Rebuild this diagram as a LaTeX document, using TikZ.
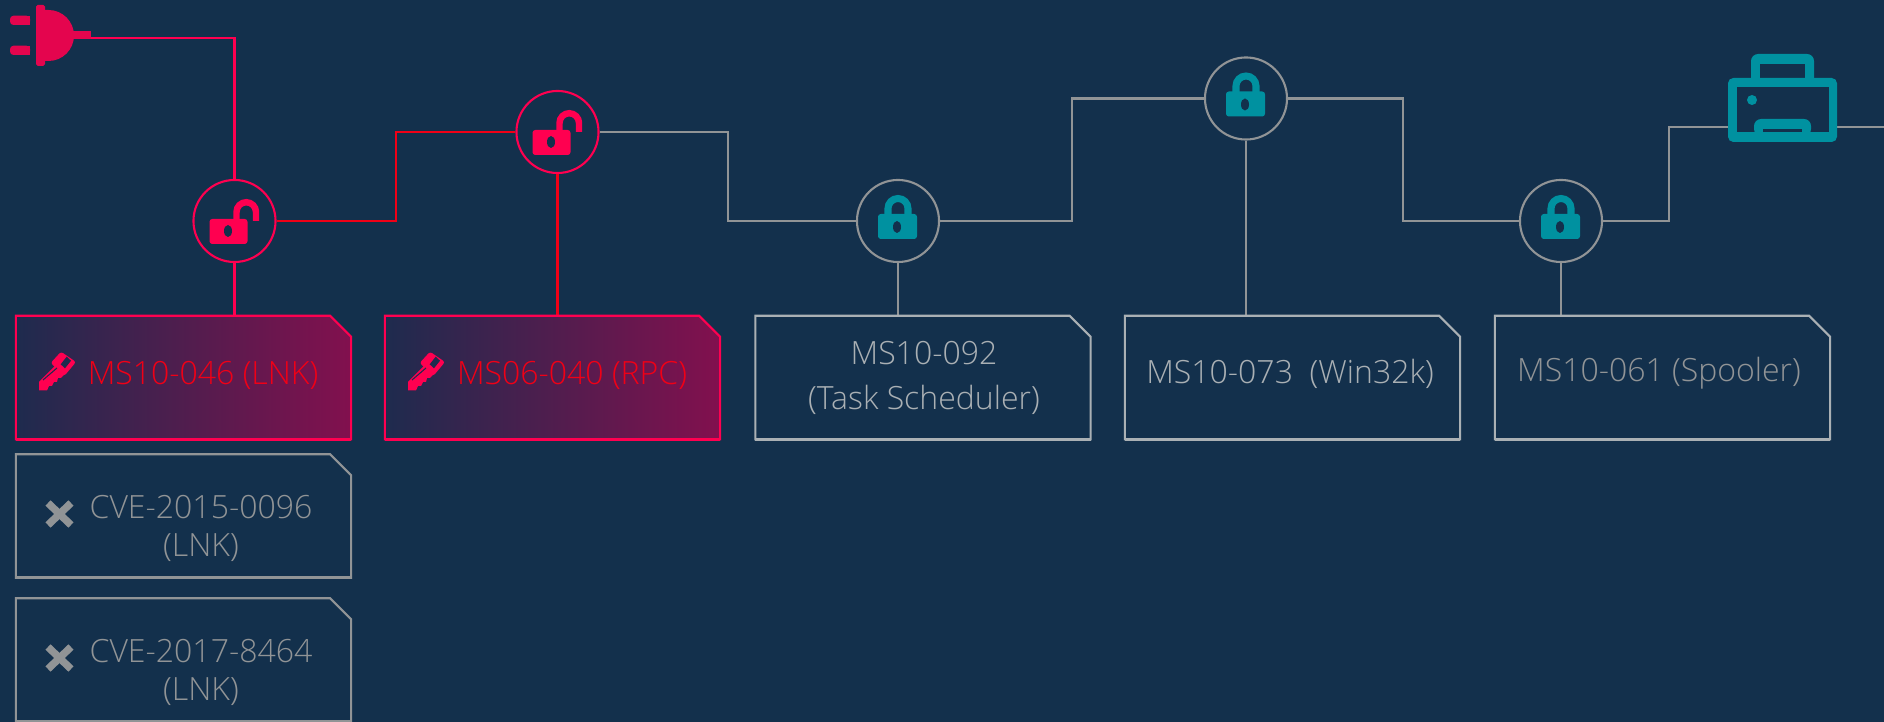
\documentclass[tikz,border=0pt]{standalone}
\usepackage{fontspec}
\setmainfont{Open Sans Light}
\usetikzlibrary{positioning}
\definecolor{bgnavy}{RGB}{19, 48, 76}
\definecolor{cvcrimson}{RGB}{255, 0, 80}
\definecolor{cvred}{RGB}{240, 0, 22}
\definecolor{cvplug}{RGB}{228, 5, 78}
\definecolor{cvteal}{RGB}{0, 145, 160}
\definecolor{cvgray}{RGB}{145, 148, 150}
\definecolor{cvlight}{RGB}{170, 176, 180}
\definecolor{cvfadeleft}{RGB}{30, 43, 78}
\definecolor{cvfaderight}{RGB}{130, 16, 78}

\tikzset{
  hopnode/.style={circle, draw, line width=0.6pt, minimum size=0.82cm, inner sep=0pt, fill=bgnavy},
  boxnode/.style={rectangle, minimum width=3.35cm, minimum height=1.235cm, inner sep=0pt, outer sep=0pt, align=center},
  wire/.style={line width=0.7pt, cvgray},
  hotwire/.style={line width=0.7pt, cvred},
  pinkwire/.style={line width=0.7pt, cvcrimson},
  label/.style={font=\fontsize{9.1}{10.6}\selectfont, align=center, inner sep=0pt},
}
\newcommand{\notchpath}[1]{(#1.south west) -- (#1.north west) -- ([xshift=-0.21cm]#1.north east) -- ([yshift=-0.21cm]#1.north east) -- (#1.south east) -- cycle}

\begin{document}
\begin{tikzpicture}[x=0.01cm, y=-0.01cm]
  % Background
  \fill[bgnavy] (0,0) rectangle (1884,722);
  \useasboundingbox (0,0) rectangle (1884,722);

  % Hop nodes
  \node[hopnode, draw=cvcrimson] (hopa) at (234.5,221) {};
  \node[hopnode, draw=cvcrimson] (hopb) at (557.5,132) {};
  \node[hopnode, draw=cvgray] (hopc) at (898,221) {};
  \node[hopnode, draw=cvgray] (hopd) at (1246,98.5) {};
  \node[hopnode, draw=cvgray] (hope) at (1561,221) {};

  % Boxes
  \node[boxnode] (boxa) at (183.5,377.5) {};
  \node[boxnode] (boxb) at (552.5,377.5) {};
  \node[boxnode] (boxc) at (923,377.5) {};
  \node[boxnode] (boxd) at (1292.5,377.5) {};
  \node[boxnode] (boxe) at (1662.5,377.5) {};
  \node[boxnode] (boxf) at (183.5,516) {};
  \node[boxnode] (boxg) at (183.5,660) {};

  % Ends of the chain
  \coordinate (plugend) at (91,38);
  \coordinate (printerin) at (1728,127);
  \coordinate (printerout) at (1837,127);
  \coordinate (edge) at (1884,127);

  % Wires
  \draw[pinkwire] (plugend) -| (hopa.north);
  \draw[hotwire] (hopa.east) -- (396,221) |- (hopb.west);
  \draw[wire] (hopb.east) -- (728,132) |- (hopc.west);
  \draw[wire] (hopc.east) -- (1072,221) |- (hopd.west);
  \draw[wire] (hopd.east) -- (1403,98.5) |- (hope.west);
  \draw[wire] (hope.east) -- (1669,221) |- (printerin);
  \draw[wire] (printerout) -- (edge);
  \draw[pinkwire] (hopa.south) -- (boxa.north -| hopa.south);
  \draw[hotwire] (hopb.south) -- (boxb.north -| hopb.south);
  \draw[wire] (hopc.south) -- (boxc.north -| hopc.south);
  \draw[wire] (hopd.south) -- (boxd.north -| hopd.south);
  \draw[wire] (hope.south) -- (boxe.north -| hope.south);

  % Box outlines
  \foreach \bname in {boxa, boxb} {
    \draw[cvcrimson, line width=0.6pt, left color=cvfadeleft, right color=cvfaderight] \notchpath{\bname};
    \draw[cvcrimson, line width=0.9pt] (\bname.south west) -- (\bname.south east);
  }
  \foreach \bname in {boxc, boxd, boxe} {
    \draw[cvlight, line width=0.6pt] \notchpath{\bname};
    \draw[cvlight, line width=0.9pt] (\bname.south west) -- (\bname.south east);
  }
  \foreach \bname in {boxf, boxg} {
    \draw[cvgray, line width=0.6pt] \notchpath{\bname};
    \draw[cvgray, line width=0.9pt] (\bname.south west) -- (\bname.south east);
  }

  % Box texts
  \node[label, cvred] (texta) at (203,375.5) {MS10-046 (LNK)};
  \node[label, cvred] (textb) at (572,375.5) {MS06-040 (RPC)};
  \node[label, cvlight] (textc) at (924,378) {MS10-092\\[2.2pt](Task Scheduler)};
  \node[label, cvlight] (textd) at (1290,373.5) {MS10-073\ \ (Win32k)};
  \node[label, cvgray] (texte) at (1659,373.5) {MS10-061 (Spooler)};
  \node[label, cvgray] (textf) at (201,528.5) {CVE-2015-0096\\(LNK)};
  \node[label, cvgray] (textg) at (201,672.5) {CVE-2017-8464\\(LNK)};

  % Plug
  \fill[cvplug, rounded corners=0.5pt] (36,5) rectangle (45,66);
  \fill[cvplug] (44,10) -- (48.5,10) arc (-90:90:25.5) -- (44,61) -- cycle;
  \fill[cvplug] (70,30.7) rectangle (91,39);
  \fill[cvplug, rounded corners=1pt] (10,15.7) rectangle (30,25);
  \fill[cvplug] (20,15.7) rectangle (30,25);
  \fill[cvplug, rounded corners=1pt] (10,45.7) rectangle (30,55);
  \fill[cvplug] (20,45.7) rectangle (30,55);

  % Open locks
  \foreach \hx/\hy in {234.5/221, 557.5/132} {
    \begin{scope}[shift={(\hx,\hy)}]
      \draw[cvcrimson, line width=1.84pt] (2,1) -- (2,-9) arc (180:360:9.75) -- (21.5,0);
      \fill[cvcrimson, rounded corners=0.8pt] (-25,-2) rectangle (13,23);
      \fill[bgnavy] (-6.5,10) ellipse (4 and 6);
    \end{scope}
  }

  % Closed locks
  \foreach \hx/\hy in {898/221, 1246/98.5, 1561/221} {
    \begin{scope}[shift={(\hx,\hy)}]
      \draw[cvteal, line width=2pt] (-10,-6) -- (-10,-12.5) arc (180:360:10) -- (10,-6);
      \fill[cvteal, rounded corners=0.8pt] (-20,-7) rectangle (19,18);
      \fill[bgnavy] (-1,6) ellipse (4 and 6);
    \end{scope}
  }

  % Keys
  \foreach \kx in {0, 369} {
    \begin{scope}[xshift=\kx*0.01cm]
      \fill[cvcrimson, rounded corners=0.7pt] (61,351.7) -- (76,362) -- (64.3,376) -- (50.7,363) -- cycle;
      \fill[cvcrimson] (39,382) -- (56,365) -- (65,374) -- (61,378) -- (58,378) -- (57,382) -- (54,382) -- (52,386) -- (49,386) -- (47,390.5) -- (39,390.5) -- cycle;
      \draw[cvfadeleft, line width=0.3pt] (43,380) -- (57,368);
      \fill[cvfadeleft] (66.7,356.7) -- (71,360.7) -- (65,368.3) -- (60.7,364.3) -- cycle;
    \end{scope}
  }

  % Crosses
  \foreach \cy in {514, 658} {
    \draw[cvgray, line width=2.1pt] (48,\cy-11) -- (71,\cy+11);
    \draw[cvgray, line width=2.1pt] (71,\cy-11) -- (48,\cy+11);
  }

  % Printer
  \fill[cvteal, rounded corners=2pt] (1751,90) -- (1751,54) -- (1814,54) -- (1814,90) -- cycle;
  \fill[bgnavy] (1760,64) rectangle (1805,80);
  \fill[cvteal, rounded corners=1.5pt] (1728,78) rectangle (1837,142);
  \fill[bgnavy] (1736.5,87) rectangle (1828.5,132);
  \fill[cvteal] (1752,100) circle (5);
  \fill[cvteal, rounded corners=2pt] (1754,136) -- (1754,119) -- (1811,119) -- (1811,136) -- cycle;
  \fill[bgnavy] (1763,129) rectangle (1802,132);
\end{tikzpicture}
\end{document}
